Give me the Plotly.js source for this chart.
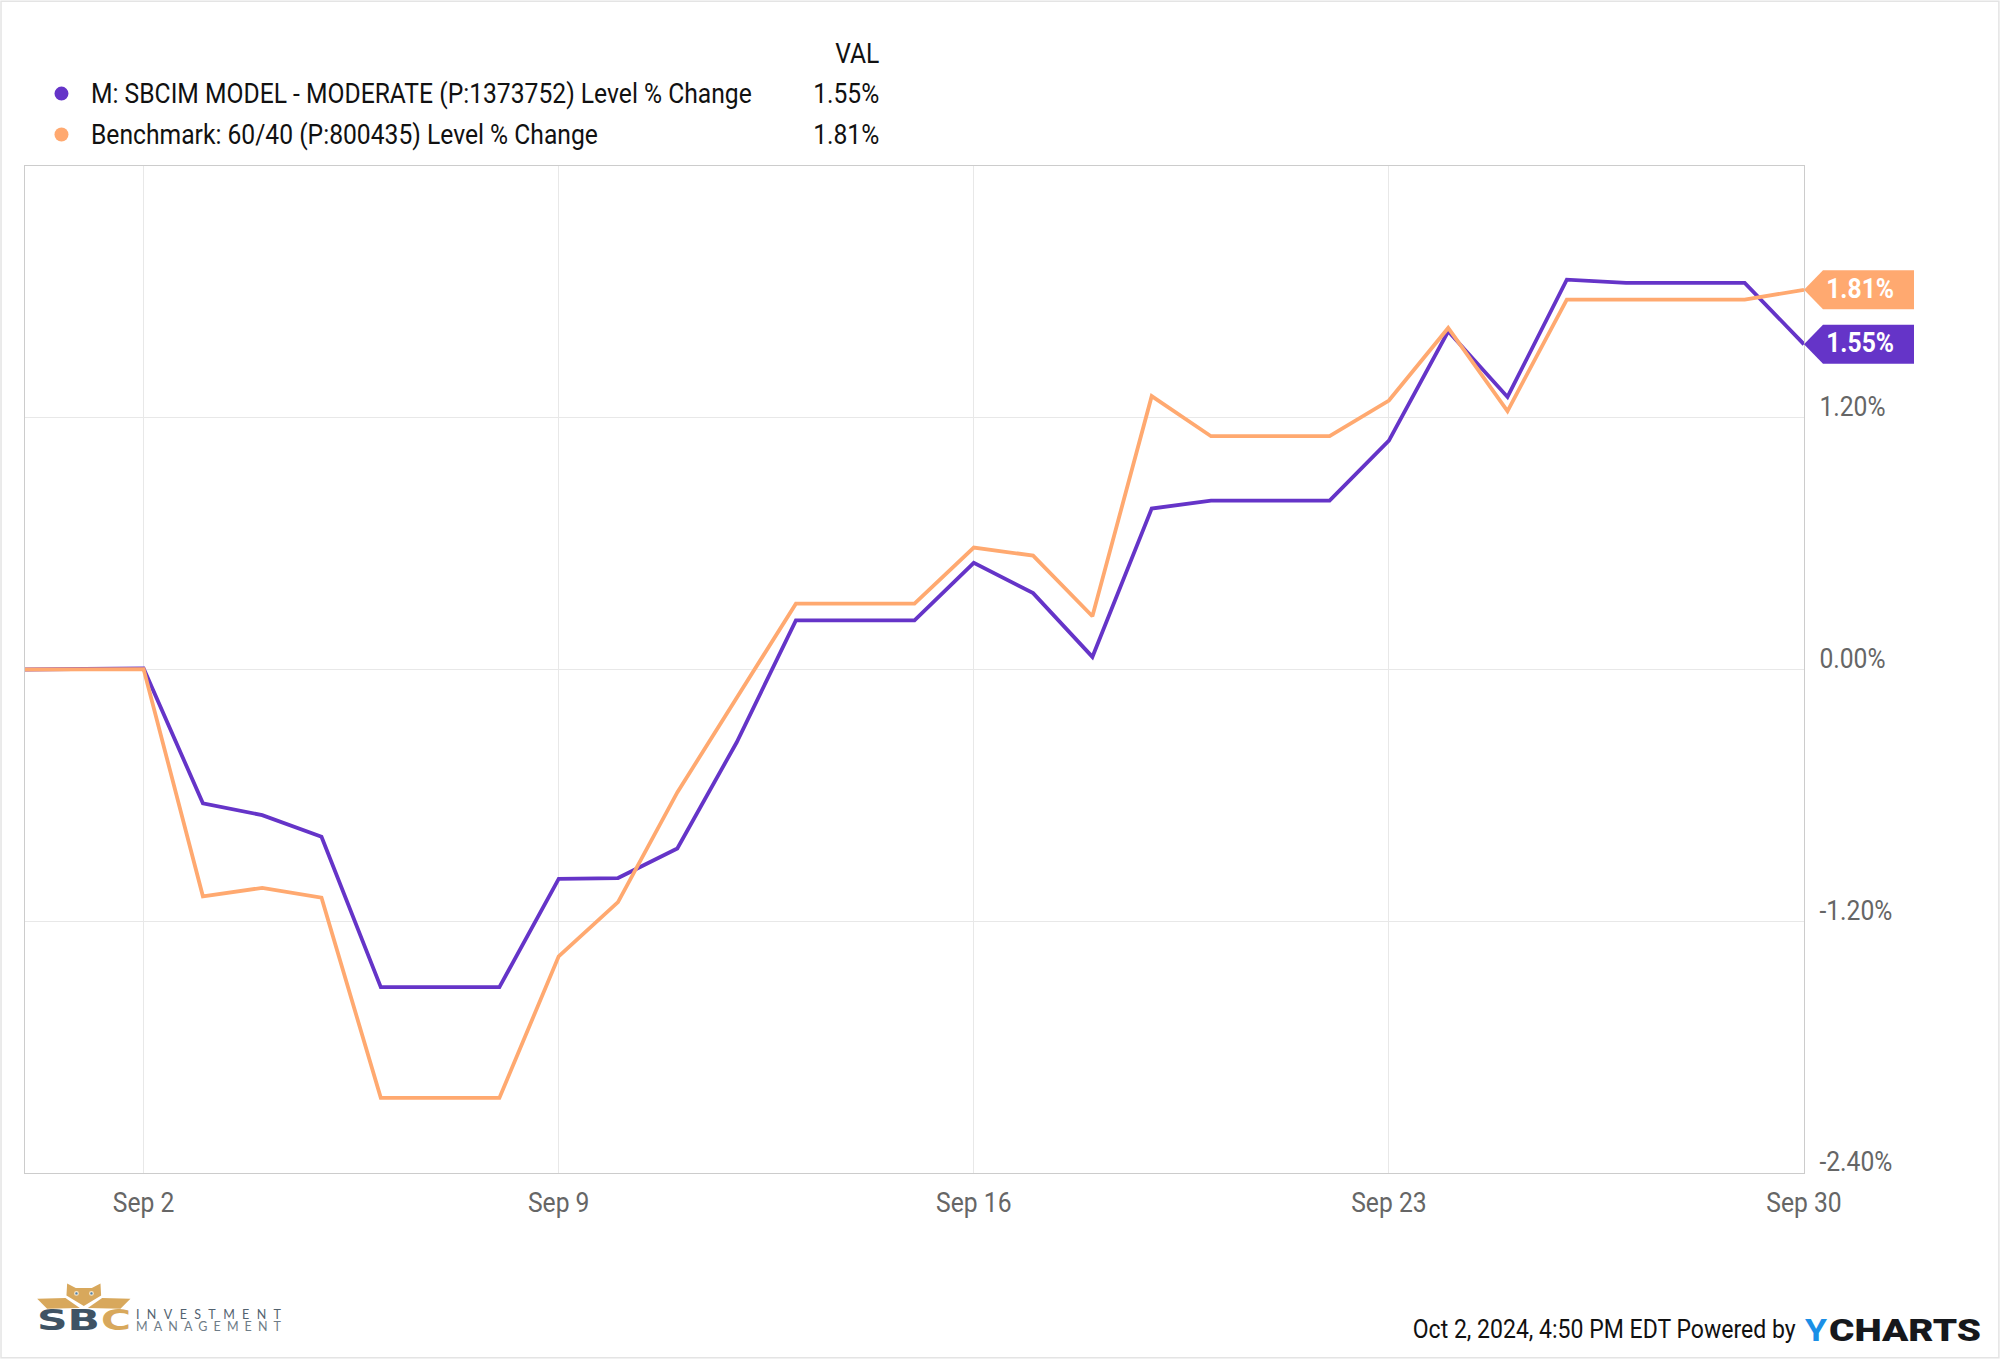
<!DOCTYPE html>
<html>
<head>
<meta charset="utf-8">
<script src="https://cdn.plot.ly/plotly-3.0.1.min.js"></script>
<style>html,body{margin:0;padding:0;background:#fff}#chart{width:2000px;height:1359px}</style>
</head>
<body>
<div id="chart"></div>
<script>
const dates = ["2024-08-31","2024-09-01","2024-09-02","2024-09-03","2024-09-04","2024-09-05","2024-09-06","2024-09-07","2024-09-08","2024-09-09","2024-09-10","2024-09-11","2024-09-12","2024-09-13","2024-09-14","2024-09-15","2024-09-16","2024-09-17","2024-09-18","2024-09-19","2024-09-20","2024-09-21","2024-09-22","2024-09-23","2024-09-24","2024-09-25","2024-09-26","2024-09-27","2024-09-28","2024-09-29","2024-09-30"];
const moderate = [0,0.002,0.005,-0.638,-0.694,-0.797,-1.514,-1.514,-1.514,-0.998,-0.994,-0.853,-0.348,0.234,0.234,0.234,0.508,0.364,0.06,0.767,0.805,0.805,0.805,1.091,1.612,1.299,1.858,1.843,1.843,1.843,1.55];
const benchmark = [0,0,0.002,-1.081,-1.041,-1.088,-2.042,-2.042,-2.042,-1.367,-1.109,-0.586,-0.136,0.314,0.314,0.314,0.581,0.543,0.254,1.303,1.112,1.112,1.112,1.282,1.628,1.232,1.763,1.763,1.763,1.763,1.81];
const xTickVals = ["2024-09-02","2024-09-09","2024-09-16","2024-09-23","2024-09-30"];
const xTickText = ["Sep 2","Sep 9","Sep 16","Sep 23","Sep 30"];
const yTickVals = [-2.4,-1.2,0,1.2];
const yTickText = ["-2.40%","-1.20%","0.00%","1.20%"];
const seriesNames = ["M: SBCIM MODEL - MODERATE (P:1373752) Level % Change","Benchmark: 60/40 (P:800435) Level % Change"];
const footerText = "Oct 2, 2024, 4:50 PM EDT Powered by";
const colors = ["#6534c8","#ffa970"];
const lastVals = [moderate[moderate.length-1], benchmark[benchmark.length-1]];

const L=24.5,T=165.5,R=1804.5,B=1173.5,W=R-L,H=B-T;
const xp=v=>(v-L)/W, yp=v=>1-(v-T)/H;
const font="Roboto, sans-serif";
const FS=27;

function poly(pts,fill,line){
  const d=pts.map((p,i)=>(i?'L':'M')+xp(p[0]).toFixed(5)+','+yp(p[1]).toFixed(5)).join(' ')+' Z';
  return {type:'path',xref:'paper',yref:'paper',path:d,fillcolor:fill,line:{width:line?0.6:0,color:line||fill},layer:'above'};
}
function dot(cx,cy,r,fill){
  return {type:'circle',xref:'paper',yref:'paper',x0:xp(cx-r),x1:xp(cx+r),y0:yp(cy+r),y1:yp(cy-r),fillcolor:fill,line:{width:0},layer:'above'};
}
function txt(x,y,text,size,color,anchor,extra){
  return Object.assign({xref:'paper',yref:'paper',x:xp(x),y:yp(y),text:text,showarrow:false,xanchor:anchor||'left',yanchor:'middle',borderpad:0,
    font:{family:font,size:size,color:color}},extra||{});
}
const lg=(x,y)=>[x/3,1260+y/3];
const gold="#d8a85c", slate="#3f5364";

const shapes=[
  {type:'rect',xref:'paper',yref:'paper',x0:xp(0.5),x1:xp(1999.5),y0:yp(1358.5),y1:yp(0.5),line:{color:'#e4e4e4',width:1.5},layer:'below'},
  dot(61,93,7,colors[0]),dot(61,134,7,colors[1]),
  ...[1,0].map(i=>({type:'path',xref:'paper',yref:'y',xsizemode:'pixel',ysizemode:'pixel',xanchor:1,yanchor:lastVals[i],
    path:'M0,0 L19,19.5 L110,19.5 L110,-19.5 L19,-19.5 Z',fillcolor:colors[i],line:{width:0},layer:'above'})),
  poly([lg(110,118),lg(195,116),lg(238,146),lg(140,148)],gold),
  poly([lg(390,118),lg(305,116),lg(262,146),lg(360,148)],gold),
  poly([lg(200,72),lg(226,86),lg(274,86),lg(300,72),lg(302,108),lg(250,140),lg(198,108)],gold),
  dot(76,1294,2.4,'#f4e6cc'),dot(91,1294,2.4,'#f4e6cc'),dot(76,1294,1.2,'#4d7fa8'),dot(91,1294,1.2,'#4d7fa8')
];

const annotations=[
  txt(880,53,"VAL",FS,'#111','right'),
  txt(90,93,seriesNames[0],FS,'#111'),
  txt(90,134,seriesNames[1],FS,'#111'),
  txt(883,93,lastVals[0].toFixed(2)+'%',FS,'#111','right'),
  txt(883,134,lastVals[1].toFixed(2)+'%',FS,'#111','right'),
  ...[1,0].map(i=>({xref:'paper',yref:'y',x:xp(1861),y:lastVals[i],yshift:1,text:lastVals[i].toFixed(2)+'%',showarrow:false,xanchor:'center',yanchor:'middle',
    font:{family:font,size:FS,color:'#fff',weight:700}})),
  txt(1797,1330,footerText,25,'#111','right'),
  txt(1804,1331,"Y",32,'#1b8fe6','left',{font:{family:font,size:32,color:'#1b8fe6',weight:700}}),
  txt(1829,1331,"CHARTS",32,'#16181c','left',{font:{family:font,size:32,color:'#16181c',weight:900}}),
  txt(36,1321,"SB",28,slate,'left',{font:{family:"DejaVu Sans",size:28,color:slate,weight:700}}),
  txt(100,1321,"C",28,gold,'left',{font:{family:"DejaVu Sans",size:28,color:gold,weight:700}}),
  txt(135,1315.5,"INVESTMENT",12.5,'#53626f','left',{font:{family:"Lato",size:12.5,color:'#53626f'}}),
  txt(135,1327,"MANAGEMENT",12.5,'#6e7c87','left',{font:{family:"Lato",size:12.5,color:'#6e7c87'}})
];

const traces=[
  {x:dates,y:moderate,type:'scatter',mode:'lines',name:seriesNames[0],line:{color:colors[0],width:3.8,shape:'linear'},hoverinfo:'skip',cliponaxis:false},
  {x:dates,y:benchmark,type:'scatter',mode:'lines',name:seriesNames[1],line:{color:colors[1],width:3.8,shape:'linear'},hoverinfo:'skip',cliponaxis:false}
];
const layout={
  width:2000,height:1359,showlegend:false,paper_bgcolor:'#fff',plot_bgcolor:'#fff',
  margin:{l:L,r:2000-R,t:T,b:1359-B,pad:0},
  font:{family:font,size:FS,color:'#666'},
  xaxis:{type:'date',range:["2024-08-31","2024-09-30"],tickmode:'array',tickvals:xTickVals,ticktext:xTickText,
    showgrid:true,gridcolor:'#e8e8e8',gridwidth:1,showline:true,linecolor:'#ccc',linewidth:1,mirror:true,ticks:'',zeroline:false,
    tickfont:{family:font,size:FS,color:'#666'},automargin:false,ticklabelstandoff:6},
  yaxis:{range:[-2.4,2.4],side:'right',tickmode:'array',tickvals:yTickVals,ticktext:yTickText,
    showgrid:true,gridcolor:'#e8e8e8',gridwidth:1,showline:true,linecolor:'#ccc',linewidth:1,mirror:true,ticks:'',zeroline:false,
    tickfont:{family:font,size:FS,color:'#666'},automargin:false,ticklabelstandoff:9,ticklabelshift:-11},
  shapes:shapes,annotations:annotations
};
const SQUEEZE=0.913;
const widths={"SB":63,"C":30,"Y":22,"CHARTS":152,[footerText]:383};
const spaced={"INVESTMENT":145,"MANAGEMENT":145};
const anchorOf={};
annotations.forEach(a=>{anchorOf[a.text]=a.xanchor;});
Plotly.newPlot('chart',traces,layout,{displayModeBar:false,staticPlot:true}).then(()=>{
  document.querySelectorAll('#chart svg text').forEach(t=>{
    const s=t.textContent; if(!s) return;
    const natural=t.getComputedTextLength();
    let target, adj='spacingAndGlyphs';
    if(widths[s]) target=widths[s];
    else if(spaced[s]){target=spaced[s];adj='spacing';}
    else target=natural*SQUEEZE;
    t.setAttribute('textLength',target);
    t.setAttribute('lengthAdjust',adj);
    // annotation text is centred in its box: keep the intended edge fixed
    const inAnn=t.closest('.annotation');
    if(inAnn && anchorOf[s] && anchorOf[s]!=='center'){
      const d=(natural-target)/2*(anchorOf[s]==='left'?-1:1);
      t.setAttribute('x',parseFloat(t.getAttribute('x')||0)+d);
    }
  });
});
</script>
</body>
</html>
